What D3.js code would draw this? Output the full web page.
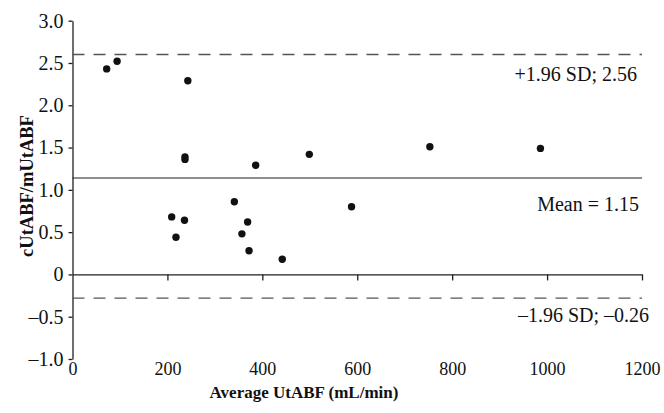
<!DOCTYPE html>
<html lang="en">
<head>
<meta charset="utf-8">
<title>Bland-Altman UtABF</title>
<script src="https://d3js.org/d3.v7.min.js"></script>
<style>
  body { margin: 0; background: #fff; }
  text { font-family: "Liberation Serif", "Times New Roman", serif; fill: #111; }
</style>
</head>
<body>
<script>
// average flow (x) and ratio (y) for each subject
var avgFlow = [72, 94, 243, 237, 237, 386, 499, 209, 236, 218, 341, 369, 357, 372, 442, 588, 753, 986];
var ratio   = [2.43, 2.52, 2.29, 1.39, 1.36, 1.29, 1.42, 0.68, 0.64, 0.44, 0.86, 0.62, 0.48, 0.28, 0.18, 0.80, 1.51, 1.49];

var xTicks = [0, 200, 400, 600, 800, 1000, 1200];
var yTicks = [-1, -0.5, 0, 0.5, 1, 1.5, 2, 2.5, 3];

// reference lines: drawn level and its label
var refLevels = [2.6, 1.14, -0.28];
var refLabels = ["+1.96 SD; 2.56", "Mean = 1.15", "\u20131.96 SD; \u20130.26"];
var refDashed = [true, false, true];

var w = 664, h = 413;
var svg = d3.select("body").append("svg")
    .attr("width", w)
    .attr("height", h);

var x = d3.scaleLinear().domain([0, 1200]).range([72.5, 642]);
var y = d3.scaleLinear().domain([-1, 3]).range([359, 20.7]);

function fmtY(d) {
  if (d === 0) return "0";
  var s = d3.format(".1f")(Math.abs(d));
  return d < 0 ? "\u2013" + s : s;
}

// y axis
var yAxis = svg.append("g")
    .attr("transform", "translate(" + x(0) + ",0)")
    .call(d3.axisLeft(y).tickValues(yTicks).tickSize(4).tickSizeOuter(0).tickPadding(5).tickFormat(fmtY));
yAxis.selectAll("text").style("font-size", "20px");
yAxis.selectAll("line, path").attr("stroke", "#231f20").attr("stroke-width", 1.3);

// zero line with downward ticks
var zeroAxis = svg.append("g")
    .attr("transform", "translate(0," + y(0) + ")")
    .call(d3.axisBottom(x).tickValues(xTicks.slice(1)).tickSize(6).tickSizeOuter(0).tickFormat(""));
zeroAxis.selectAll("line, path").attr("stroke", "#231f20").attr("stroke-width", 1.3);

// x tick labels below the plot
var xLab = svg.append("g")
    .attr("transform", "translate(0," + y(-1) + ")")
    .call(d3.axisBottom(x).tickValues(xTicks).tickSize(0).tickPadding(3).tickFormat(d3.format("d")));
xLab.select(".domain").remove();
xLab.selectAll("text").style("font-size", "18px");

// reference lines
refLevels.forEach(function(v, i) {
  svg.append("line")
    .attr("x1", x(0)).attr("x2", x(1200))
    .attr("y1", y(v)).attr("y2", y(v))
    .attr("stroke", refDashed[i] ? "#555" : "#231f20")
    .attr("stroke-width", refDashed[i] ? 1.4 : 1.2)
    .attr("stroke-dasharray", refDashed[i] ? "12,9" : null);
});

var labelPos = [{dx: 637, dy: 81}, {dx: 639, dy: 210.5}, {dx: 649, dy: 322}];
refLabels.forEach(function(t, i) {
  svg.append("text")
    .attr("x", labelPos[i].dx)
    .attr("y", labelPos[i].dy)
    .attr("text-anchor", "end")
    .style("font-size", "20px")
    .text(t);
});

// points
svg.selectAll(".dot")
  .data(avgFlow)
  .enter().append("circle")
  .attr("class", "dot")
  .attr("cx", function(d) { return x(d); })
  .attr("cy", function(d, i) { return y(ratio[i]); })
  .attr("r", 3.7)
  .attr("fill", "#111");

// axis titles
svg.append("text")
  .attr("x", 304)
  .attr("y", 398)
  .attr("text-anchor", "middle")
  .attr("font-weight", "bold")
  .style("font-size", "17px")
  .text("Average UtABF (mL/min)");

svg.append("text")
  .attr("transform", "translate(33,186)rotate(-90)")
  .attr("text-anchor", "middle")
  .attr("font-weight", "bold")
  .style("font-size", "18.5px")
  .text("cUtABF/mUtABF");
</script>
</body>
</html>
